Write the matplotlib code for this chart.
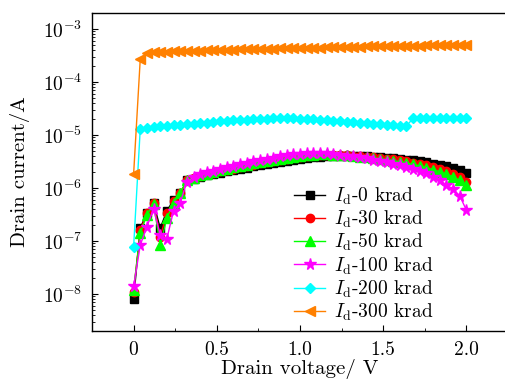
import matplotlib
matplotlib.use("Agg")
import matplotlib.pyplot as plt
import numpy as np
from matplotlib.ticker import MultipleLocator, LogLocator

plt.rcParams['font.family'] = ['cmr10', 'DejaVu Serif']
plt.rcParams['mathtext.fontset'] = 'cm'
plt.rcParams['axes.unicode_minus'] = False
plt.rcParams['axes.formatter.use_mathtext'] = True

# drain voltage sweep (V), 0.04 V steps
voltage = np.round(np.arange(51) * 0.04, 2)

# drain current (A) per total dose
id_0 = [7.9e-9, 1.74e-7, 3.4e-7, 5.2e-7, 1.74e-7, 3.7e-7, 5.9e-7, 7.9e-7,
        1.38e-6, 1.50e-6, 1.62e-6, 1.73e-6, 1.84e-6, 1.95e-6, 2.06e-6, 2.18e-6,
        2.30e-6, 2.42e-6, 2.55e-6, 2.68e-6, 2.82e-6, 2.96e-6, 3.10e-6, 3.25e-6,
        3.40e-6, 3.55e-6, 3.68e-6, 3.80e-6, 3.90e-6, 3.97e-6, 4.02e-6, 4.04e-6,
        4.04e-6, 4.02e-6, 3.98e-6, 3.93e-6, 3.87e-6, 3.80e-6, 3.72e-6, 3.63e-6,
        3.53e-6, 3.42e-6, 3.30e-6, 3.17e-6, 3.03e-6, 2.88e-6, 2.72e-6, 2.55e-6,
        2.38e-6, 2.18e-6, 1.95e-6]
id_30 = [1.1e-8, 1.6e-7, 3.3e-7, 5.3e-7, 1.2e-7, 3.3e-7, 5.6e-7, 7.9e-7,
         1.38e-6, 1.52e-6, 1.66e-6, 1.79e-6, 1.92e-6, 2.05e-6, 2.18e-6, 2.32e-6,
         2.46e-6, 2.61e-6, 2.76e-6, 2.92e-6, 3.08e-6, 3.24e-6, 3.41e-6, 3.58e-6,
         3.75e-6, 3.90e-6, 4.03e-6, 4.13e-6, 4.20e-6, 4.23e-6, 4.23e-6, 4.20e-6,
         4.15e-6, 4.08e-6, 4.00e-6, 3.91e-6, 3.81e-6, 3.70e-6, 3.58e-6, 3.45e-6,
         3.31e-6, 3.16e-6, 3.00e-6, 2.83e-6, 2.65e-6, 2.46e-6, 2.25e-6, 2.04e-6,
         1.82e-6, 1.58e-6, 1.32e-6]
id_50 = [1.2e-8, 1.4e-7, 3.1e-7, 5.0e-7, 8.3e-8, 2.7e-7, 5.2e-7, 7.9e-7,
         1.40e-6, 1.56e-6, 1.72e-6, 1.86e-6, 2.00e-6, 2.14e-6, 2.28e-6, 2.43e-6,
         2.58e-6, 2.74e-6, 2.90e-6, 3.06e-6, 3.23e-6, 3.40e-6, 3.57e-6, 3.74e-6,
         3.90e-6, 4.04e-6, 4.15e-6, 4.23e-6, 4.27e-6, 4.27e-6, 4.24e-6, 4.18e-6,
         4.10e-6, 4.01e-6, 3.91e-6, 3.80e-6, 3.68e-6, 3.55e-6, 3.41e-6, 3.26e-6,
         3.10e-6, 2.94e-6, 2.77e-6, 2.59e-6, 2.40e-6, 2.21e-6, 2.02e-6, 1.83e-6,
         1.62e-6, 1.38e-6, 1.12e-6]
id_100 = [1.38e-8, 8.3e-8, 1.86e-7, 4.0e-7, 1.3e-7, 1.1e-7, 3.7e-7, 5.2e-7,
          1.30e-6, 1.58e-6, 1.80e-6, 1.96e-6, 2.12e-6, 2.28e-6, 2.45e-6, 2.62e-6,
          2.80e-6, 2.98e-6, 3.16e-6, 3.35e-6, 3.54e-6, 3.73e-6, 3.92e-6, 4.10e-6,
          4.27e-6, 4.42e-6, 4.52e-6, 4.56e-6, 4.54e-6, 4.46e-6, 4.35e-6, 4.22e-6,
          4.08e-6, 3.93e-6, 3.77e-6, 3.60e-6, 3.43e-6, 3.25e-6, 3.07e-6, 2.88e-6,
          2.69e-6, 2.49e-6, 2.29e-6, 2.09e-6, 1.88e-6, 1.63e-6, 1.40e-6, 1.13e-6,
          9.5e-7, 7.1e-7, 3.8e-7]
id_200 = [7.6e-8, 1.30e-5, 1.36e-5, 1.41e-5, 1.45e-5, 1.49e-5, 1.52e-5, 1.55e-5,
          1.59e-5, 1.63e-5, 1.67e-5, 1.71e-5, 1.75e-5, 1.79e-5, 1.83e-5, 1.87e-5,
          1.91e-5, 1.94e-5, 1.97e-5, 2.00e-5, 2.03e-5, 2.05e-5, 2.06e-5, 2.06e-5,
          2.05e-5, 2.03e-5, 2.00e-5, 1.96e-5, 1.92e-5, 1.88e-5, 1.84e-5, 1.80e-5,
          1.76e-5, 1.72e-5, 1.68e-5, 1.65e-5, 1.62e-5, 1.59e-5, 1.56e-5, 1.53e-5,
          1.50e-5, 1.48e-5, 2.06e-5, 2.07e-5, 2.08e-5, 2.08e-5, 2.09e-5, 2.10e-5,
          2.10e-5, 2.11e-5, 2.12e-5]
id_300 = [1.8e-6, 2.7e-4, 3.5e-4, 3.6e-4, 3.65e-4, 3.7e-4, 3.75e-4, 3.8e-4,
          3.83e-4, 3.86e-4, 3.9e-4, 3.93e-4, 3.96e-4, 4.0e-4, 4.03e-4, 4.06e-4,
          4.09e-4, 4.12e-4, 4.15e-4, 4.18e-4, 4.21e-4, 4.24e-4, 4.27e-4, 4.3e-4,
          4.33e-4, 4.36e-4, 4.39e-4, 4.42e-4, 4.45e-4, 4.48e-4, 4.51e-4, 4.54e-4,
          4.57e-4, 4.6e-4, 4.63e-4, 4.66e-4, 4.69e-4, 4.72e-4, 4.75e-4, 4.78e-4,
          4.8e-4, 4.82e-4, 4.84e-4, 4.86e-4, 4.88e-4, 4.9e-4, 4.92e-4, 4.94e-4,
          4.96e-4, 4.98e-4, 5.0e-4]

series = [
    (id_0, 'black', 's', r'$I_{\mathrm{d}}$-0 krad'),
    (id_30, '#ff0000', 'o', r'$I_{\mathrm{d}}$-30 krad'),
    (id_50, '#00ff00', '^', r'$I_{\mathrm{d}}$-50 krad'),
    (id_100, '#ff00ff', '*', r'$I_{\mathrm{d}}$-100 krad'),
    (id_200, '#00ffff', 'D', r'$I_{\mathrm{d}}$-200 krad'),
    (id_300, '#ff8000', '<', r'$I_{\mathrm{d}}$-300 krad'),
]
sizes = {'s': 5.5, 'o': 6, '^': 6.5, '*': 8.5, 'D': 5, '<': 6.5}

fig = plt.figure(figsize=(5.06, 3.82), dpi=100)
ax = fig.add_axes([92 / 506, 51 / 382, 416 / 506, 318 / 382])

for vals, col, mk, lab in series:
    ax.plot(voltage, vals, color=col, marker=mk, markersize=sizes[mk],
            markeredgecolor=col, linewidth=1.0, label=lab)

ax.set_yscale('log')
ax.set_xlim(-0.25, 2.25)
ax.set_ylim(10 ** -8.70, 10 ** -2.70)
ax.xaxis.set_minor_locator(MultipleLocator(0.25))
ax.set_xticks([0, 0.5, 1.0, 1.5, 2.0])
ax.set_xticklabels(['0', '0.5', '1.0', '1.5', '2.0'])
ax.yaxis.set_major_locator(LogLocator(base=10, numticks=12))
ax.yaxis.set_minor_locator(LogLocator(base=10, subs=np.arange(2, 10), numticks=12))
ax.tick_params(which='both', direction='in', labelsize=14, top=False, right=False)
ax.tick_params(which='major', length=4, pad=7)
ax.tick_params(which='minor', length=2)
for s in ax.spines.values():
    s.set_linewidth(1.0)

ax.set_xlabel('Drain voltage/ V', fontsize=15, labelpad=0)
ax.set_ylabel('Drain current/A', fontsize=15, labelpad=9)

ax.legend(loc='lower left', bbox_to_anchor=(0.486, 0.025), frameon=False,
          fontsize=14, handlelength=1.6, handletextpad=0.45,
          labelspacing=0.1, borderpad=0, borderaxespad=0)

fig.savefig('out.png', dpi=100)
